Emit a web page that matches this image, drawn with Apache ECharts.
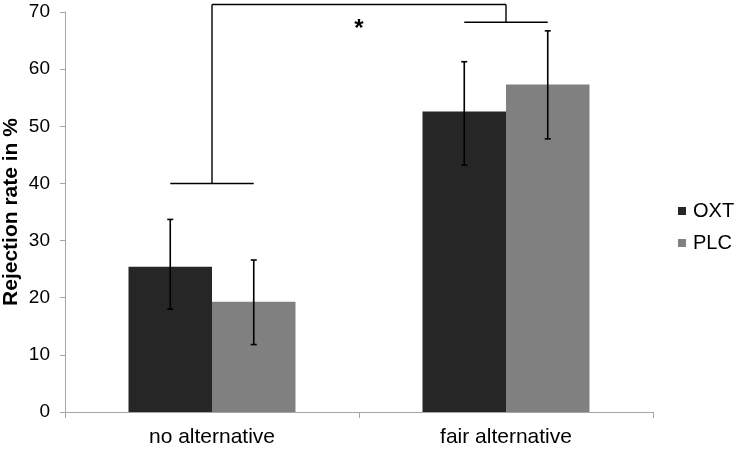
<!DOCTYPE html>
<html>
<head>
<meta charset="utf-8">
<script src="https://cdn.jsdelivr.net/npm/echarts@6/dist/echarts.min.js"></script>
<style>
html,body{margin:0;padding:0;background:#fff;}
#chart{width:740px;height:449px;}
</style>
</head>
<body>
<div id="chart"></div>
<script>
// ---- data ----
var categories = ['no alternative', 'fair alternative'];
var seriesNames = ['OXT', 'PLC'];
var oxtValues = [25.4, 52.6];
var plcValues = [19.3, 57.3];
var oxtErrLow = [18.0, 43.2];
var oxtErrHigh = [33.7, 61.3];
var plcErrLow = [11.8, 47.8];
var plcErrHigh = [26.6, 66.7];
var yTicks = [0, 10, 20, 30, 40, 50, 60, 70];
// significance bracket levels (value units)
var bracketLeftLevel = 40.0;
var bracketRightLevel = 68.2;
var bracketTopLevel = 71.3;
var sigLabel = '*';

var BAR_W = '28.4%';
var AXIS_COLOR = '#a6a6a6';
var FONT = 'Arial, "Liberation Sans", sans-serif';

var chart = echarts.init(document.getElementById('chart'));

function barWidthPx(api) {
  return api.size([1, 0])[0] * 0.284;
}

function errorSeries(name, lows, highs, sign) {
  var data = lows.map(function (l, i) { return [i, l, highs[i]]; });
  return {
    type: 'custom',
    name: name + ' err',
    data: data,
    z: 10,
    silent: true,
    renderItem: function (params, api) {
      var i = api.value(0);
      var bw = barWidthPx(api);
      var lo = api.coord([i, api.value(1)]);
      var hi = api.coord([i, api.value(2)]);
      var x = lo[0] + sign * bw / 2;
      var cap = 3;
      var st = { stroke: '#000', lineWidth: 1.6 };
      return {
        type: 'group',
        children: [
          { type: 'line', shape: { x1: x, y1: lo[1], x2: x, y2: hi[1] }, style: st },
          { type: 'line', shape: { x1: x - cap, y1: lo[1], x2: x + cap, y2: lo[1] }, style: st },
          { type: 'line', shape: { x1: x - cap, y1: hi[1], x2: x + cap, y2: hi[1] }, style: st }
        ]
      };
    }
  };
}

var bracketSeries = {
  type: 'custom',
  name: 'bracket',
  data: [[0, bracketLeftLevel, 1, bracketRightLevel, bracketTopLevel]],
  z: 10,
  silent: true,
  clip: false,
  renderItem: function (params, api) {
    var bw = barWidthPx(api);
    var a = api.coord([api.value(0), api.value(1)]);
    var b = api.coord([api.value(2), api.value(3)]);
    var topY = api.coord([0, api.value(4)])[1];
    var st = { stroke: '#000', lineWidth: 1.4 };
    return {
      type: 'group',
      children: [
        { type: 'line', shape: { x1: a[0] - bw / 2, y1: a[1], x2: a[0] + bw / 2, y2: a[1] }, style: st },
        { type: 'line', shape: { x1: a[0], y1: a[1], x2: a[0], y2: topY }, style: st },
        { type: 'line', shape: { x1: a[0], y1: topY, x2: b[0], y2: topY }, style: st },
        { type: 'line', shape: { x1: b[0], y1: topY, x2: b[0], y2: b[1] }, style: st },
        { type: 'line', shape: { x1: b[0] - bw / 2, y1: b[1], x2: b[0] + bw / 2, y2: b[1] }, style: st },
        { type: 'text', x: (a[0] + b[0]) / 2, y: topY + 25,
          style: { text: sigLabel, fill: '#000', font: 'bold 24px ' + FONT, align: 'center', verticalAlign: 'middle' } }
      ]
    };
  }
};

chart.setOption({
  animation: false,
  backgroundColor: '#fff',
  textStyle: { fontFamily: FONT },
  grid: { left: 65, right: 87, top: 12, bottom: 37, containLabel: false, outerBoundsMode: 'none' },
  legend: {
    data: seriesNames,
    orient: 'vertical',
    left: 673,
    top: 196,
    itemWidth: 8,
    itemHeight: 8,
    itemGap: 12,
    icon: 'rect',
    textStyle: { fontSize: 20, color: '#000', fontFamily: FONT, lineHeight: 20, padding: [0, 0, 0, 2] }
  },
  xAxis: {
    type: 'category',
    data: categories,
    axisLine: { lineStyle: { color: AXIS_COLOR, width: 1 } },
    axisTick: { show: true, length: 6, lineStyle: { color: AXIS_COLOR } },
    axisLabel: { color: '#000', fontSize: 21, margin: 15, fontFamily: FONT }
  },
  yAxis: {
    type: 'value',
    min: 0,
    max: 70,
    interval: 10,
    name: 'Rejection rate in %',
    nameLocation: 'middle',
    nameGap: 43,
    nameMoveOverlap: false,
    nameTextStyle: { fontSize: 21, fontWeight: 'bold', color: '#000', fontFamily: FONT },
    axisLine: { show: true, lineStyle: { color: AXIS_COLOR, width: 1 } },
    axisTick: { show: true, length: 5, lineStyle: { color: AXIS_COLOR } },
    splitLine: { show: false },
    axisLabel: {
      color: '#000', fontSize: 19, margin: 15, fontFamily: FONT,
      formatter: function (v) { return yTicks.indexOf(v) >= 0 ? String(v) : ''; }
    }
  },
  series: [
    { name: 'OXT', type: 'bar', data: oxtValues, barWidth: BAR_W, barGap: '0%',
      itemStyle: { color: '#262626' } },
    { name: 'PLC', type: 'bar', data: plcValues, barWidth: BAR_W, barGap: '0%',
      itemStyle: { color: '#808080' } },
    errorSeries('OXT', oxtErrLow, oxtErrHigh, -1),
    errorSeries('PLC', plcErrLow, plcErrHigh, 1),
    bracketSeries
  ]
});
</script>
</body>
</html>
